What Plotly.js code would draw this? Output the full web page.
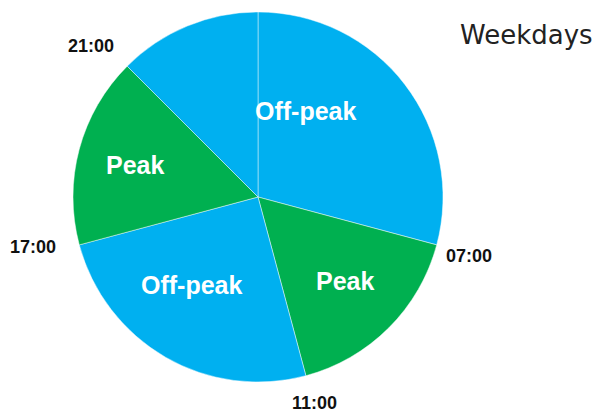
<!DOCTYPE html>
<html>
<head>
<meta charset="utf-8">
<script src="https://cdn.plot.ly/plotly-3.0.1.min.js"></script>
<style>html,body{margin:0;padding:0;background:#fff;}#chart{width:600px;height:412px;}</style>
</head>
<body>
<div id="chart"></div>
<script>
// Periods clockwise from 00:00
const periods = ["00:00-07:00", "07:00-11:00", "11:00-17:00", "17:00-21:00", "21:00-24:00"];
const hours = [7, 4, 6, 4, 3];
const sliceLabels = ["Off-peak", "Peak", "Off-peak", "Peak", ""];
const sliceColors = ["#00B0F0", "#00B050", "#00B0F0", "#00B050", "#00B0F0"];
const boundaryTicks = ["07:00", "11:00", "17:00", "21:00"];
const titleText = "Weekdays";

const W = 600, H = 412;
const cx = 258, cy = 197, R = 185;
const domX = [(cx - R) / W, (cx + R) / W];
const domY = [1 - (cy + R) / H, 1 - (cy - R) / H];

const FONT = "Liberation Sans, Arial, sans-serif";
const annotations = [];
// pixel centres of the boundary time labels
const tickPos = { "07:00": [469, 256], "11:00": [314, 403], "17:00": [33, 247], "21:00": [91, 46] };
boundaryTicks.forEach(t => {
  const p = tickPos[t];
  annotations.push({ x: p[0] / W, y: 1 - p[1] / H, xref: "paper", yref: "paper", text: "<b>" + t + "</b>", showarrow: false,
    xanchor: "center", yanchor: "middle",
    font: { family: FONT, size: 18, color: "#111" } });
});
// pixel centres of the slice labels
const labelPos = [[306, 111], [345, 281], [192, 285], [135, 165], null];
sliceLabels.forEach((t, i) => {
  if (!t || !labelPos[i]) return;
  const p = labelPos[i];
  annotations.push({ x: p[0] / W, y: 1 - p[1] / H, xref: "paper", yref: "paper", text: "<b>" + t + "</b>", showarrow: false,
    xanchor: "center", yanchor: "middle",
    font: { family: FONT, size: 25, color: "#fff" } });
});
annotations.push({ x: 526 / W, y: 1 - 35 / H, xref: "paper", yref: "paper", text: titleText, showarrow: false,
  xanchor: "center", yanchor: "middle",
  font: { family: "DejaVu Sans, sans-serif", size: 26, color: "#222" } });

const data = [{
  type: "pie",
  values: hours,
  labels: periods,
  textinfo: "none",
  sort: false,
  direction: "clockwise",
  rotation: 0,
  marker: { colors: sliceColors, line: { color: "rgba(255,255,255,0.45)", width: 1 } },
  domain: { x: domX, y: domY },
  showlegend: false,
  hoverinfo: "none"
}];

const layout = {
  width: W, height: H,
  margin: { l: 0, r: 0, t: 0, b: 0 },
  paper_bgcolor: "#fff",
  showlegend: false,
  annotations: annotations
};
Plotly.newPlot("chart", data, layout, { displayModeBar: false, staticPlot: true });
</script>
</body>
</html>
